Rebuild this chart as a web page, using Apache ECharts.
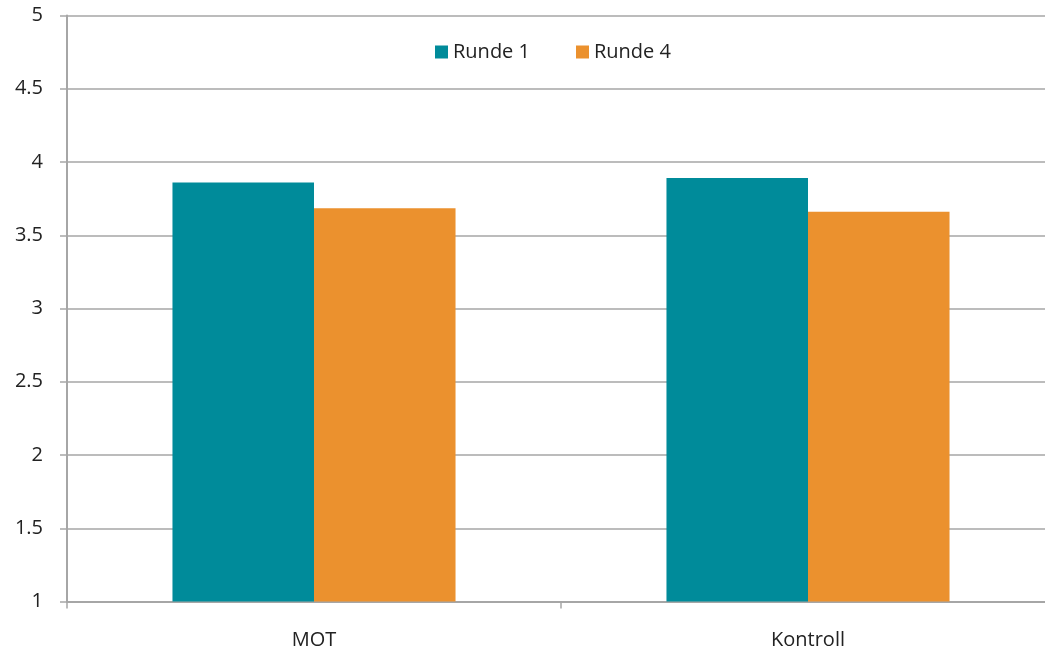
<!DOCTYPE html>
<html>
<head>
<meta charset="utf-8">
<script src="https://cdn.jsdelivr.net/npm/echarts@6/dist/echarts.min.js"></script>
<style>
  html, body { margin: 0; padding: 0; background: #fff; }
  #main { width: 1045px; height: 657px; }
</style>
</head>
<body>
<div id="main"></div>
<script>
var categories = ['MOT', 'Kontroll'];
var runde1 = [3.86, 3.89];
var runde4 = [3.685, 3.66];
var yTicks = [1, 1.5, 2, 2.5, 3, 3.5, 4, 4.5, 5];

var myChart = echarts.init(document.getElementById('main'));
var font = '"Open Sans", "Liberation Sans", sans-serif';
var option = {
    animation: false,
    textStyle: { fontFamily: font },
    legend: {
        data: ['Runde 1', 'Runde 4'],
        top: 37,
        left: 430,
        itemWidth: 13,
        itemHeight: 13,
        itemGap: 46,
        icon: 'rect',
        textStyle: { fontSize: 20, color: '#222', fontFamily: font }
    },
    grid: {
        left: 67,
        right: -10,
        top: 15.5,
        bottom: 55.5,
        containLabel: false,
        outerBoundsMode: 'none'
    },
    xAxis: {
        type: 'category',
        data: categories,
        axisLine: { lineStyle: { color: '#a6a6a6', width: 2 } },
        axisTick: { show: true, length: 7, lineStyle: { color: '#a6a6a6', width: 1.5 } },
        axisLabel: { fontSize: 20, color: '#222', margin: 29, fontFamily: font }
    },
    yAxis: {
        type: 'value',
        min: yTicks[0],
        max: yTicks[yTicks.length - 1],
        interval: 0.5,
        axisLine: { show: true, lineStyle: { color: '#a6a6a6', width: 2 } },
        axisTick: { show: true, length: 7, lineStyle: { color: '#a6a6a6', width: 1.5 } },
        splitLine: { lineStyle: { color: '#a6a6a6', width: 1.5 } },
        axisLabel: { fontSize: 20, color: '#222', margin: 24, fontFamily: font }
    },
    series: [
        {
            name: 'Runde 1',
            type: 'bar',
            data: runde1,
            barGap: '0%',
            barCategoryGap: '42.7%',
            itemStyle: { color: '#008b9a' }
        },
        {
            name: 'Runde 4',
            type: 'bar',
            data: runde4,
            itemStyle: { color: '#eb912e' }
        }
    ]
};
myChart.setOption(option);
</script>
</body>
</html>
